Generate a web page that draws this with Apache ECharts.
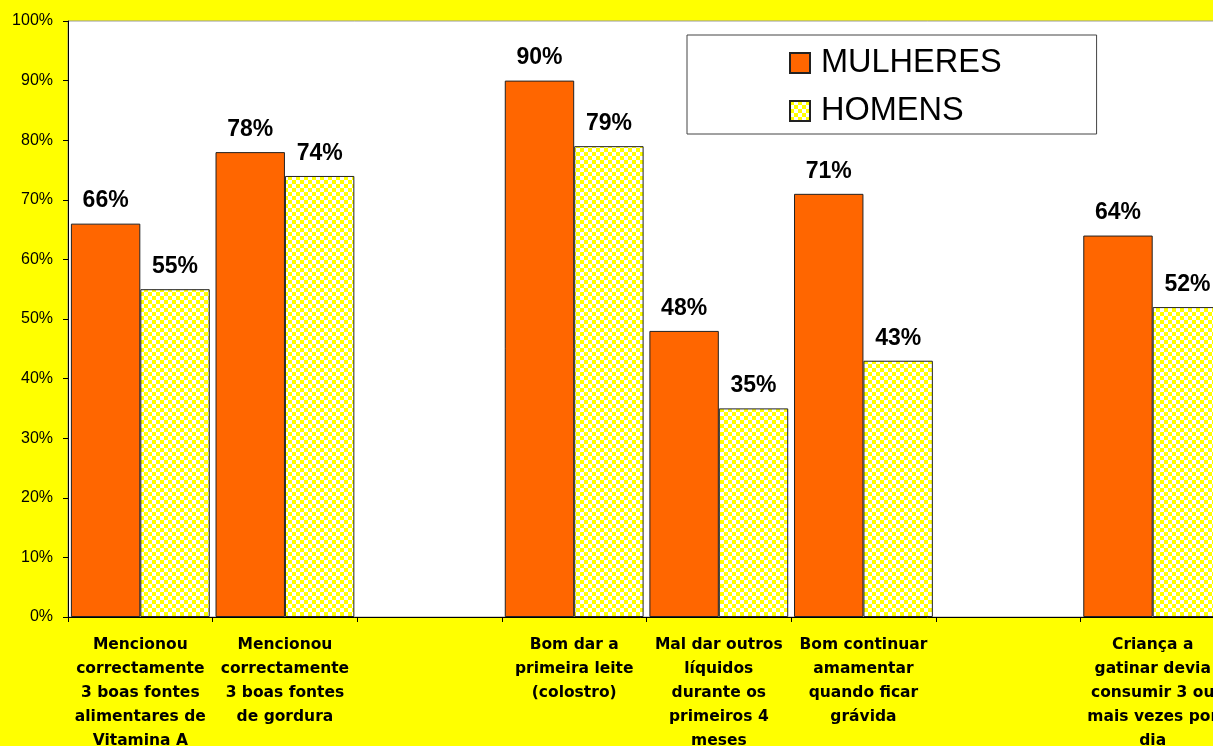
<!DOCTYPE html>
<html>
<head>
<meta charset="utf-8">
<script src="https://cdn.jsdelivr.net/npm/echarts@6/dist/echarts.min.js"></script>
<style>
  html, body { margin: 0; padding: 0; overflow: hidden; background: #ffff00; }
  #chart { width: 1213px; height: 746px; }
</style>
</head>
<body>
<div id="chart"></div>
<script>
// Categories (empty slots keep the gaps between groups of questions)
const categories = [
  'Mencionou\ncorrectamente\n3 boas fontes\nalimentares de\nVitamina A',
  'Mencionou\ncorrectamente\n3 boas fontes\nde gordura',
  '',
  'Bom dar a\nprimeira leite\n(colostro)',
  'Mal dar outros\nlíquidos\ndurante os\nprimeiros 4\nmeses',
  'Bom continuar\namamentar\nquando ficar\ngrávida',
  '',
  'Criança a\ngatinar devia\nconsumir 3 ou\nmais vezes por\ndia'
];
const mulheres = [66, 78, null, 90, 48, 71, null, 64];
const homens   = [55, 74, null, 79, 35, 43, null, 52];
const yTicks = [0, 10, 20, 30, 40, 50, 60, 70, 80, 90, 100];

// Yellow / white checker fill for the HOMENS bars
function checker() {
  const c = document.createElement('canvas');
  c.width = 8; c.height = 8;
  const g = c.getContext('2d');
  g.fillStyle = '#ffffff'; g.fillRect(0, 0, 8, 8);
  g.fillStyle = '#ffff00';
  g.fillRect(0, 0, 4, 4);
  g.fillRect(4, 4, 4, 4);
  return c;
}

const chart = echarts.init(document.getElementById('chart'), null, { renderer: 'canvas' });

const valueLabel = {
  show: true,
  position: 'top',
  distance: 11,
  formatter: p => p.value + '%',
  fontFamily: 'Liberation Sans, Arial, sans-serif',
  fontWeight: 'bold',
  fontSize: 23,
  color: '#000'
};

chart.setOption({
  backgroundColor: '#ffff00',
  animation: false,
  // the last group runs past the right edge of the page
  grid: {
    left: 68, top: 21, width: 1157, height: 596,
    outerBoundsMode: 'none',
    containLabel: false,
    show: true, backgroundColor: '#ffffff', borderColor: '#999999', borderWidth: 1
  },
  legend: {
    orient: 'vertical',
    left: 687, top: 35,
    padding: [10, 95, 5, 102],
    backgroundColor: '#ffffff',
    borderColor: '#444444',
    borderWidth: 1,
    itemWidth: 20, itemHeight: 20, itemGap: 12,
    icon: 'rect',
    textStyle: {
      fontFamily: 'Liberation Sans, Arial, sans-serif',
      fontSize: 32.5, lineHeight: 36, color: '#000', padding: [0, 0, 0, 6]
    },
    data: ['MULHERES', 'HOMENS']
  },
  xAxis: {
    type: 'category',
    data: categories,
    axisLine: { lineStyle: { color: '#000', width: 1 } },
    axisTick: { show: true, length: 5, lineStyle: { color: '#000' } },
    axisLabel: {
      interval: 0,
      margin: 16,
      fontFamily: 'DejaVu Sans, sans-serif',
      fontWeight: 'bold',
      fontSize: 15.5,
      lineHeight: 24,
      color: '#000',
      align: 'center'
    }
  },
  yAxis: {
    type: 'value',
    min: yTicks[0], max: yTicks[yTicks.length - 1], interval: 10,
    axisLine: { show: true, lineStyle: { color: '#000', width: 1 } },
    axisTick: { show: true, length: 5, lineStyle: { color: '#000' } },
    splitLine: { show: false },
    axisLabel: {
      margin: 15,
      formatter: v => v + '%',
      fontFamily: 'Liberation Sans, Arial, sans-serif',
      fontSize: 16,
      color: '#000'
    }
  },
  series: [
    {
      name: 'MULHERES',
      type: 'bar',
      data: mulheres,
      barGap: '0%',
      barCategoryGap: '4%',
      itemStyle: { color: '#ff6600', borderColor: '#222222', borderWidth: 1 },
      label: valueLabel
    },
    {
      name: 'HOMENS',
      type: 'bar',
      data: homens,
      barGap: '0%',
      barCategoryGap: '4%',
      itemStyle: {
        color: { image: checker(), repeat: 'repeat' },
        borderColor: '#222222', borderWidth: 1
      },
      label: valueLabel
    }
  ]
});
</script>
</body>
</html>
